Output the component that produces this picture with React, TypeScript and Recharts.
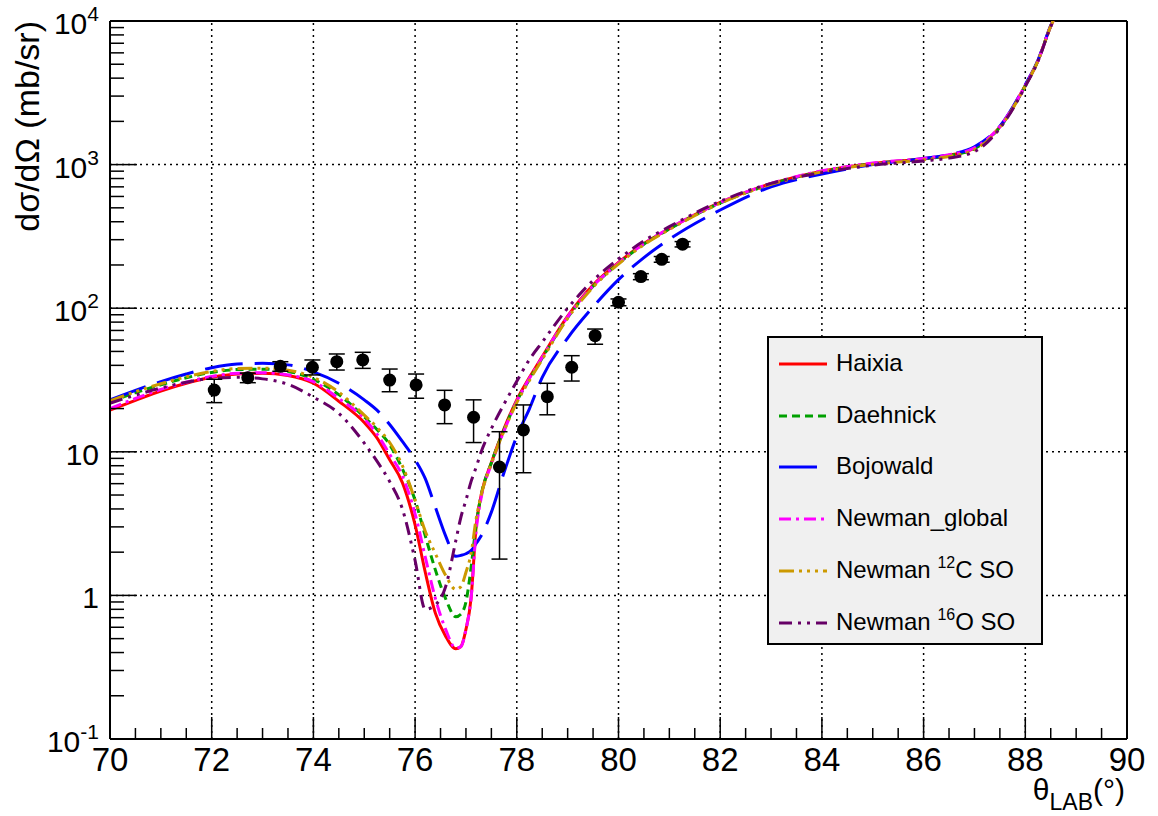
import React from 'react';
import { ComposedChart, Line, Scatter, ErrorBar, XAxis, YAxis, ReferenceLine } from 'recharts';

// lab angle (deg) used for all model curves
const thetaGrid = [70, 70.5, 71, 71.5, 72, 72.5, 73, 73.5, 74, 74.5, 75, 75.25, 75.5, 75.75, 76, 76.2, 76.4, 76.6, 76.8, 76.9, 77, 77.1, 77.2, 77.3, 77.5, 77.75, 78, 78.25, 78.5, 79, 79.5, 80, 80.5, 81, 82, 83, 84, 85, 86, 86.5, 87, 87.5, 88, 88.25, 88.5, 88.6];

// dsigma/dOmega (mb/sr) per potential
const haixia = [19.5, 22.8, 26.5, 30, 33, 34.8, 35.2, 34, 30, 22.5, 16, 12.5, 8.8, 6.1, 3.1, 1.45, 0.75, 0.52, 0.425, 0.44, 0.58, 0.95, 3.0, 5.0, 8.4, 14.5, 23, 33, 46, 88, 145, 208, 282, 358, 545, 735, 900, 1020, 1100, 1160, 1300, 1830, 3550, 5300, 9200, 11000];
const daehnick = [22.3, 25.8, 29.3, 32.8, 35.7, 37.4, 37.6, 36.3, 32, 25, 17.5, 14.3, 11.2, 7.6, 4.6, 2.6, 1.5, 0.95, 0.71, 0.74, 0.9, 1.55, 3.1, 5.0, 8.4, 14.3, 22.5, 32, 45, 86, 142, 205, 279, 356, 540, 730, 895, 1015, 1095, 1155, 1290, 1820, 3540, 5300, 9200, 11000];
const bojowald = [23, 26.8, 30.8, 34.8, 38.5, 40.8, 41.3, 40.3, 36, 30, 23, 19.5, 15.5, 11.8, 8.8, 6.5, 4.1, 2.6, 1.87, 1.9, 1.95, 2.05, 2.3, 2.6, 3.8, 7.2, 12.8, 20, 33, 62, 102, 158, 225, 302, 483, 700, 860, 1000, 1105, 1175, 1330, 1850, 3600, 5350, 9300, 11000];
const newmanGlobal = [20, 23.5, 27.2, 30.5, 33.5, 35.2, 35.5, 34.3, 30.8, 23.5, 17, 13.3, 9.6, 6.8, 3.7, 1.85, 0.95, 0.58, 0.43, 0.44, 0.58, 0.95, 2.8, 4.8, 8.2, 14, 22.5, 32.5, 45.5, 87, 143, 206, 282, 360, 545, 738, 905, 1025, 1105, 1170, 1310, 1840, 3560, 5300, 9200, 11000];
const newman12C = [22.6, 26.2, 29.8, 33.3, 36.3, 38, 38.2, 37, 33, 26, 18, 14.8, 11.6, 8.0, 4.6, 2.8, 1.95, 1.38, 1.1, 1.15, 1.45, 1.95, 3.4, 5.0, 8.3, 14, 22, 31.5, 44, 85, 140, 203, 277, 353, 538, 728, 890, 1005, 1080, 1140, 1270, 1810, 3530, 5300, 9200, 11000];
const newman16O = [21.8, 24.8, 27.8, 30.5, 32.5, 33, 32.2, 29.5, 24, 18.5, 11.5, 8.6, 6.2, 4.0, 1.75, 0.8, 0.86, 1.15, 2.4, 3.5, 4.6, 6.2, 7.8, 10, 14.5, 21.5, 31, 44, 58, 100, 156, 220, 294, 370, 555, 740, 880, 990, 1060, 1110, 1230, 1790, 3500, 5250, 9150, 11000];

// measured points
const expTheta = [72.05, 72.71, 73.35, 73.98, 74.46, 74.97, 75.5, 76.02, 76.58, 77.15, 77.66, 78.13, 78.6, 79.08, 79.54, 80.0, 80.44, 80.85, 81.26];
const expValue = [26.9, 32.8, 39.4, 38.8, 42.4, 43.6, 31.6, 29.2, 21.2, 17.4, 7.84, 14.2, 24.2, 38.8, 64.4, 110, 166, 219, 279];
const expErrLow = [4.9, 2.5, 3, 4.5, 5.3, 5.5, 5.4, 5.6, 5.5, 5.8, 6.05, 7.05, 6.1, 7.7, 8.3, 6, 8, 10, 12];
const expErrHigh = [5.1, 2.5, 3, 4.8, 5.6, 5.7, 6.1, 5.6, 5.6, 5.6, 5.96, 7.0, 5.8, 7.9, 7.2, 6, 8, 10, 12];

const xMajorTicks = [70, 72, 74, 76, 78, 80, 82, 84, 86, 88, 90];
const yMajorTicks = [0.1, 1, 10, 100, 1000, 10000];
const yTickLabels = [['10', '-1'], ['1', ''], ['10', ''], ['10', '2'], ['10', '3'], ['10', '4']];

const FONT = '"Liberation Sans", Arial, Helvetica, sans-serif';

const models = [
  { key: 'haixia', label: 'Haixia', sup: '', tail: '', values: haixia, color: '#ff0000', dash: undefined as string | undefined },
  { key: 'daehnick', label: 'Daehnick', sup: '', tail: '', values: daehnick, color: '#00a000', dash: '8 5' },
  { key: 'bojowald', label: 'Bojowald', sup: '', tail: '', values: bojowald, color: '#0000ff', dash: '38 12' },
  { key: 'newmanGlobal', label: 'Newman_global', sup: '', tail: '', values: newmanGlobal, color: '#ff00ff', dash: '12 5 3 5' },
  { key: 'newman12C', label: 'Newman ', sup: '12', tail: 'C SO', values: newman12C, color: '#cc9900', dash: '15 5 3 5 3 5 3 5' },
  { key: 'newman16O', label: 'Newman ', sup: '16', tail: 'O SO', values: newman16O, color: '#660066', dash: '13 6 3 6 3 6' },
];

const XTick = (props: any) => {
  const { x, y, payload } = props;
  const v = payload.value;
  const major = xMajorTicks.includes(v);
  return (
    <g>
      <line x1={x} x2={x} y1={y} y2={y - (major ? 22 : 11)} stroke="#000" strokeWidth={1.5} />
      {major && (
        <text x={x} y={y + 32} textAnchor="middle" fontSize={33} fontFamily={FONT} fill="#000">
          {v}
        </text>
      )}
    </g>
  );
};

const YTick = (props: any) => {
  const { x, y, payload } = props;
  const v = payload.value;
  const idx = yMajorTicks.findIndex((t) => Math.abs(Math.log10(t) - Math.log10(v)) < 1e-6);
  const major = idx >= 0;
  return (
    <g>
      <line x1={x} x2={x + (major ? 27 : 14)} y1={y} y2={y} stroke="#000" strokeWidth={1.5} />
      {major && (
        <text x={x - 11} y={y + 13} textAnchor="end" fontSize={30} fontFamily={FONT} fill="#000">
          {yTickLabels[idx][0]}
          {yTickLabels[idx][1] && (
            <tspan dy={-13} fontSize={21}>
              {yTickLabels[idx][1]}
            </tspan>
          )}
        </text>
      )}
    </g>
  );
};

const Legend = () => (
  <div
    style={{
      position: 'absolute',
      left: 767,
      top: 336,
      width: 272,
      height: 305,
      background: '#f0f0f0',
      border: '2px solid #000',
      fontFamily: FONT,
    }}
  >
    {models.map((m, i) => (
      <div key={m.key} style={{ position: 'absolute', left: 0, top: 4 + i * 51.7, height: 44, width: '100%' }}>
        <svg width={60} height={44} style={{ position: 'absolute', left: 8, top: 0 }}>
          <line x1={2} x2={50} y1={22} y2={22} stroke={m.color} strokeWidth={3} strokeDasharray={m.dash} />
        </svg>
        <div style={{ position: 'absolute', left: 67, top: 6, fontSize: 24, lineHeight: '30px', color: '#000', whiteSpace: 'nowrap' }}>
          {m.label}
          {m.sup && <span style={{ fontSize: 16, position: 'relative', top: -10 }}>{m.sup}</span>}
          {m.tail}
        </div>
      </div>
    ))}
  </div>
);

export default function App() {
  const series = models.map((m) => ({ ...m, data: thetaGrid.map((x, i) => ({ x, y: m.values[i] })) }));
  const points = expTheta.map((x, i) => ({ x, y: expValue[i], err: [expErrLow[i], expErrHigh[i]] }));

  const xTicks: number[] = [];
  for (let i = 0; i <= 40; i++) xTicks.push(70 + i * 0.5);
  const yTicks: number[] = [];
  yMajorTicks.forEach((d, i) => {
    if (i < yMajorTicks.length - 1) for (let k = 1; k < 10; k++) yTicks.push(d * k);
    else yTicks.push(d);
  });

  const gridX = xMajorTicks.slice(1, -1);
  const gridY = yMajorTicks.slice(1, -1);

  return (
    <div style={{ position: 'absolute', left: 0, top: 0, width: 1158, height: 816, background: '#fff', fontFamily: FONT }}>
      <ComposedChart width={1158} height={816} margin={{ top: 21, right: 31, bottom: 37, left: 10 }}>
        <XAxis
          dataKey="x"
          type="number"
          domain={[70, 90]}
          allowDataOverflow
          ticks={xTicks}
          interval={0}
          tickSize={0}
          tickMargin={0}
          tick={<XTick />}
          height={40}
          axisLine={{ stroke: '#000', strokeWidth: 2 }}
          label={{
            content: (p: any) => {
              const vb = p.viewBox;
              return (
                <text x={vb.x + vb.width - 2} y={800} textAnchor="end" fontSize={30} fontFamily={FONT} fill="#000">
                  θ<tspan fontSize={23} dy={10}>LAB</tspan>
                  <tspan dy={-10}>(°)</tspan>
                </text>
              );
            },
          }}
        />
        <YAxis
          dataKey="y"
          type="number"
          scale="log"
          domain={[0.1, 10000]}
          allowDataOverflow
          ticks={yTicks}
          interval={0}
          tickSize={0}
          tickMargin={0}
          tick={<YTick />}
          width={100}
          axisLine={{ stroke: '#000', strokeWidth: 2 }}
          label={{
            content: (p: any) => {
              const vb = p.viewBox;
              return (
                <text
                  x={39}
                  y={vb.y}
                  transform={`rotate(-90 39 ${vb.y})`}
                  textAnchor="end"
                  fontSize={34}
                  fontFamily={FONT}
                  fill="#000"
                >
                  dσ/dΩ (mb/sr)
                </text>
              );
            },
          }}
        />
        {gridX.map((v) => (
          <ReferenceLine key={'gx' + v} x={v} stroke="#000" strokeWidth={1.5} strokeDasharray="2 4" />
        ))}
        {gridY.map((v) => (
          <ReferenceLine key={'gy' + v} y={v} stroke="#000" strokeWidth={1.5} strokeDasharray="2 4" />
        ))}
        <ReferenceLine y={10000} stroke="#000" strokeWidth={2} />
        <ReferenceLine x={90} stroke="#000" strokeWidth={2} />
        {series.map((s) => (
          <Line
            key={s.key}
            data={s.data}
            dataKey="y"
            type="monotone"
            stroke={s.color}
            strokeWidth={3}
            strokeDasharray={s.dash}
            dot={false}
            activeDot={false}
            isAnimationActive={false}
          />
        ))}
        <Scatter
          data={points}
          dataKey="y"
          fill="#000"
          isAnimationActive={false}
          shape={(p: any) => <circle cx={p.cx} cy={p.cy} r={6.5} fill="#000" />}
        >
          <ErrorBar dataKey="err" direction="y" width={8} stroke="#000" strokeWidth={1.5} />
        </Scatter>
      </ComposedChart>
      <Legend />
    </div>
  );
}
